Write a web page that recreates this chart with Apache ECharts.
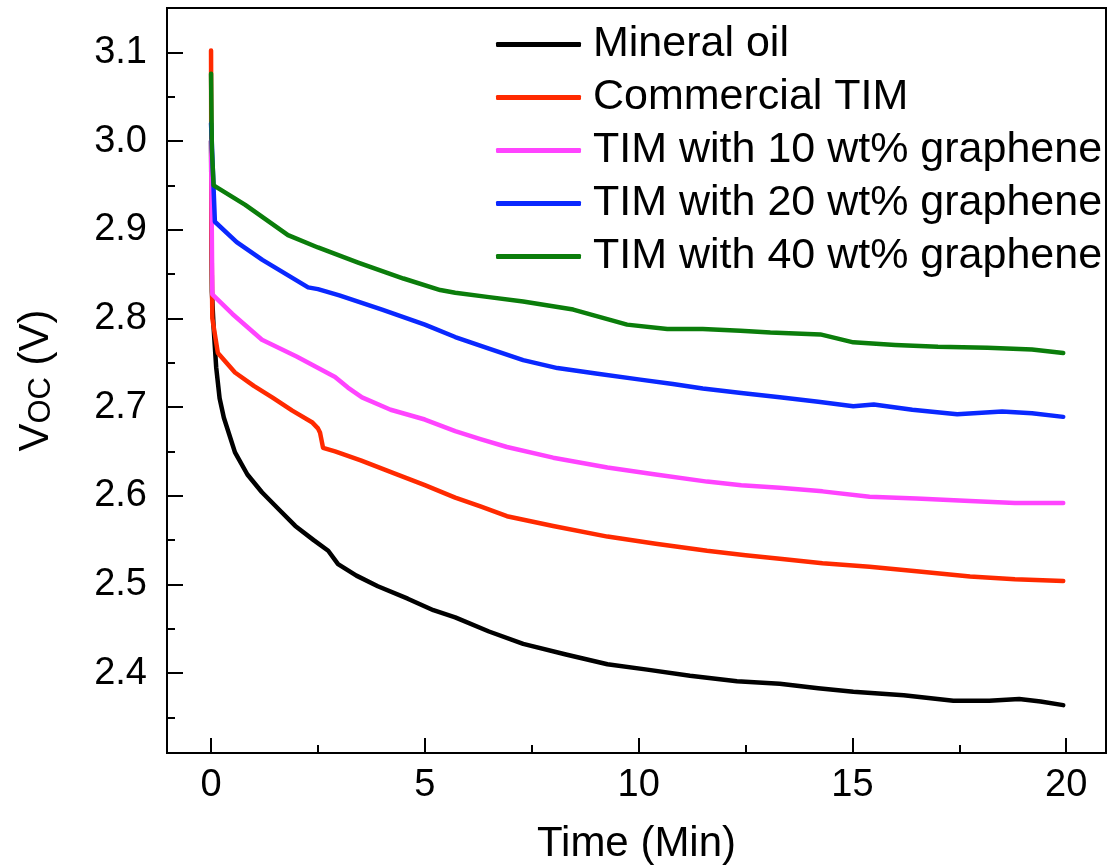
<!DOCTYPE html>
<html>
<head>
<meta charset="utf-8">
<script src="https://cdn.jsdelivr.net/npm/echarts@6/dist/echarts.min.js"></script>
<style>
  html, body { margin: 0; padding: 0; background: #fff; }
  #chart { width: 1110px; height: 867px; }
</style>
</head>
<body>
<div id="chart"></div>
<script>
// series names and colors
const seriesNames = ['Mineral oil', 'Commercial TIM', 'TIM with 10 wt% graphene', 'TIM with 20 wt% graphene', 'TIM with 40 wt% graphene'];
const seriesColors = ['#000000', '#ff2a00', '#ff44ff', '#0a28ff', '#0b7d0b'];

// [time (min), Voc (V)]
const mineralOil = [[0, 3.0], [0.02, 2.83], [0.06, 2.79], [0.12, 2.745], [0.2, 2.71], [0.3, 2.688], [0.56, 2.649], [0.85, 2.624], [1.19, 2.604], [1.6, 2.584], [1.97, 2.566], [2.4, 2.55], [2.74, 2.538], [2.97, 2.523], [3.4, 2.51], [3.9, 2.498], [4.6, 2.484], [5.2, 2.471], [5.71, 2.463], [6.5, 2.447], [7.3, 2.433], [8.3, 2.421], [9.27, 2.41], [10.2, 2.404], [11.2, 2.397], [12.3, 2.391], [13.3, 2.388], [14.2, 2.383], [15.02, 2.379], [16.2, 2.375], [17.36, 2.369], [18.2, 2.369], [18.9, 2.371], [19.4, 2.368], [19.93, 2.364]];
const commercialTim = [[0, 3.102], [0.01, 2.9], [0.03, 2.8], [0.16, 2.761], [0.56, 2.739], [1.0, 2.724], [1.43, 2.711], [1.9, 2.696], [2.36, 2.683], [2.5, 2.676], [2.55, 2.671], [2.62, 2.654], [2.9, 2.65], [3.5, 2.64], [4.3, 2.625], [5.0, 2.612], [5.71, 2.598], [6.3, 2.588], [6.92, 2.577], [8.0, 2.566], [9.27, 2.554], [10.4, 2.546], [11.6, 2.538], [12.5, 2.533], [13.3, 2.529], [14.3, 2.524], [15.4, 2.52], [16.5, 2.515], [17.75, 2.509], [18.8, 2.506], [19.93, 2.504]];
const tim10 = [[0, 3.0], [0.03, 2.827], [0.5, 2.805], [1.19, 2.776], [2.0, 2.757], [2.9, 2.734], [3.2, 2.722], [3.53, 2.711], [4.2, 2.697], [5.0, 2.686], [5.71, 2.673], [6.3, 2.664], [6.92, 2.655], [8.0, 2.643], [9.27, 2.632], [10.4, 2.624], [11.6, 2.616], [12.4, 2.612], [13.3, 2.609], [14.3, 2.605], [15.4, 2.599], [16.5, 2.597], [17.75, 2.594], [18.8, 2.592], [19.93, 2.592]];
const tim20 = [[0, 3.02], [0.09, 2.909], [0.6, 2.886], [1.2, 2.866], [2.27, 2.835], [2.5, 2.833], [3.0, 2.826], [4.0, 2.81], [5.0, 2.793], [5.71, 2.779], [6.5, 2.766], [7.3, 2.753], [8.1, 2.744], [9.0, 2.738], [10.04, 2.731], [10.8, 2.726], [11.5, 2.721], [12.4, 2.716], [13.3, 2.711], [14.2, 2.706], [15.02, 2.701], [15.5, 2.703], [16.4, 2.697], [17.45, 2.692], [18.5, 2.695], [19.2, 2.693], [19.93, 2.689]];
const tim40 = [[0, 3.076], [0.02, 2.99], [0.06, 2.95], [0.8, 2.928], [1.8, 2.894], [2.5, 2.88], [3.44, 2.863], [4.5, 2.845], [5.36, 2.832], [5.71, 2.829], [6.5, 2.824], [7.3, 2.819], [8.47, 2.81], [9.73, 2.793], [10.67, 2.788], [11.5, 2.788], [12.38, 2.786], [13.08, 2.784], [14.25, 2.782], [15.02, 2.773], [16.0, 2.77], [17.0, 2.768], [18.16, 2.767], [19.2, 2.765], [19.93, 2.761]];

// tick values
const xTicks = [0, 5, 10, 15, 20];
const xMinorTicks = [2.5, 7.5, 12.5, 17.5];
const yTicks = [2.4, 2.5, 2.6, 2.7, 2.8, 2.9, 3.0, 3.1];
const yMinorTicks = [2.35, 2.45, 2.55, 2.65, 2.75, 2.85, 2.95, 3.05];

const font = 'Arial, "Liberation Sans", sans-serif';
const allData = [mineralOil, commercialTim, tim10, tim20, tim40];

const chart = echarts.init(document.getElementById('chart'));

const tickLine = { color: '#000', width: 2 };
const xMin = -1.03, xMax = 20.93;

let options = {
    animation: false,
    grid: {
        left: 167, top: 8, right: 4, bottom: 114,
        outerBoundsMode: 'none',
        containLabel: false,
        show: true, borderColor: '#000', borderWidth: 2
    },
    legend: {
        orient: 'vertical',
        left: 496,
        top: 23,
        padding: 0,
        itemWidth: 85,
        itemHeight: 5,
        itemGap: 10,
        icon: 'roundRect',
        data: seriesNames,
        textStyle: {
            fontFamily: font,
            fontSize: 43,
            lineHeight: 43,
            color: '#000',
            padding: [0, 0, 0, 7]
        }
    },
    xAxis: [{
        type: 'value',
        min: xMin,
        max: xMax,
        name: 'Time (Min)',
        nameLocation: 'middle',
        nameGap: 70,
        nameTextStyle: { fontFamily: font, fontSize: 42, color: '#000' },
        axisLine: { show: true, onZero: false, lineStyle: tickLine },
        axisTick: { show: true, inside: true, length: 15, lineStyle: tickLine, customValues: xTicks },
        axisLabel: { fontFamily: font, fontSize: 38, color: '#000', margin: 14, customValues: xTicks },
        splitLine: { show: false }
    }, {
        type: 'value',
        min: xMin,
        max: xMax,
        position: 'bottom',
        axisLine: { show: false, onZero: false },
        axisTick: { show: true, inside: true, length: 8, lineStyle: tickLine, customValues: xMinorTicks },
        axisLabel: { show: false },
        splitLine: { show: false }
    }],
    yAxis: [{
        type: 'value',
        min: 2.31,
        max: 3.15,
        name: '{a|V}{b|OC}{a| (V)}',
        nameLocation: 'middle',
        nameGap: 110,
        nameTextStyle: {
            color: '#000',
            rich: {
                a: { fontFamily: font, fontSize: 42, lineHeight: 42, verticalAlign: 'top', color: '#000' },
                b: { fontFamily: font, fontSize: 31, lineHeight: 31, padding: [26, 0, 0, 0], verticalAlign: 'bottom', color: '#000' }
            }
        },
        axisLine: { show: true, onZero: false, lineStyle: tickLine },
        axisTick: { show: true, inside: true, length: 16, lineStyle: tickLine, customValues: yTicks },
        axisLabel: {
            fontFamily: font, fontSize: 38, color: '#000', margin: 20,
            customValues: yTicks,
            formatter: v => v.toFixed(1)
        },
        splitLine: { show: false }
    }, {
        type: 'value',
        min: 2.31,
        max: 3.15,
        position: 'left',
        axisLine: { show: false, onZero: false },
        axisTick: { show: true, inside: true, length: 8, lineStyle: tickLine, customValues: yMinorTicks },
        axisLabel: { show: false },
        splitLine: { show: false }
    }],
    series: seriesNames.map((name, i) => ({
        name: name,
        type: 'line',
        data: allData[i],
        showSymbol: false,
        symbol: 'none',
        color: seriesColors[i],
        lineStyle: { width: 4.5, color: seriesColors[i], cap: 'round', join: 'round' }
    }))
};

chart.setOption(options);
</script>
</body>
</html>
